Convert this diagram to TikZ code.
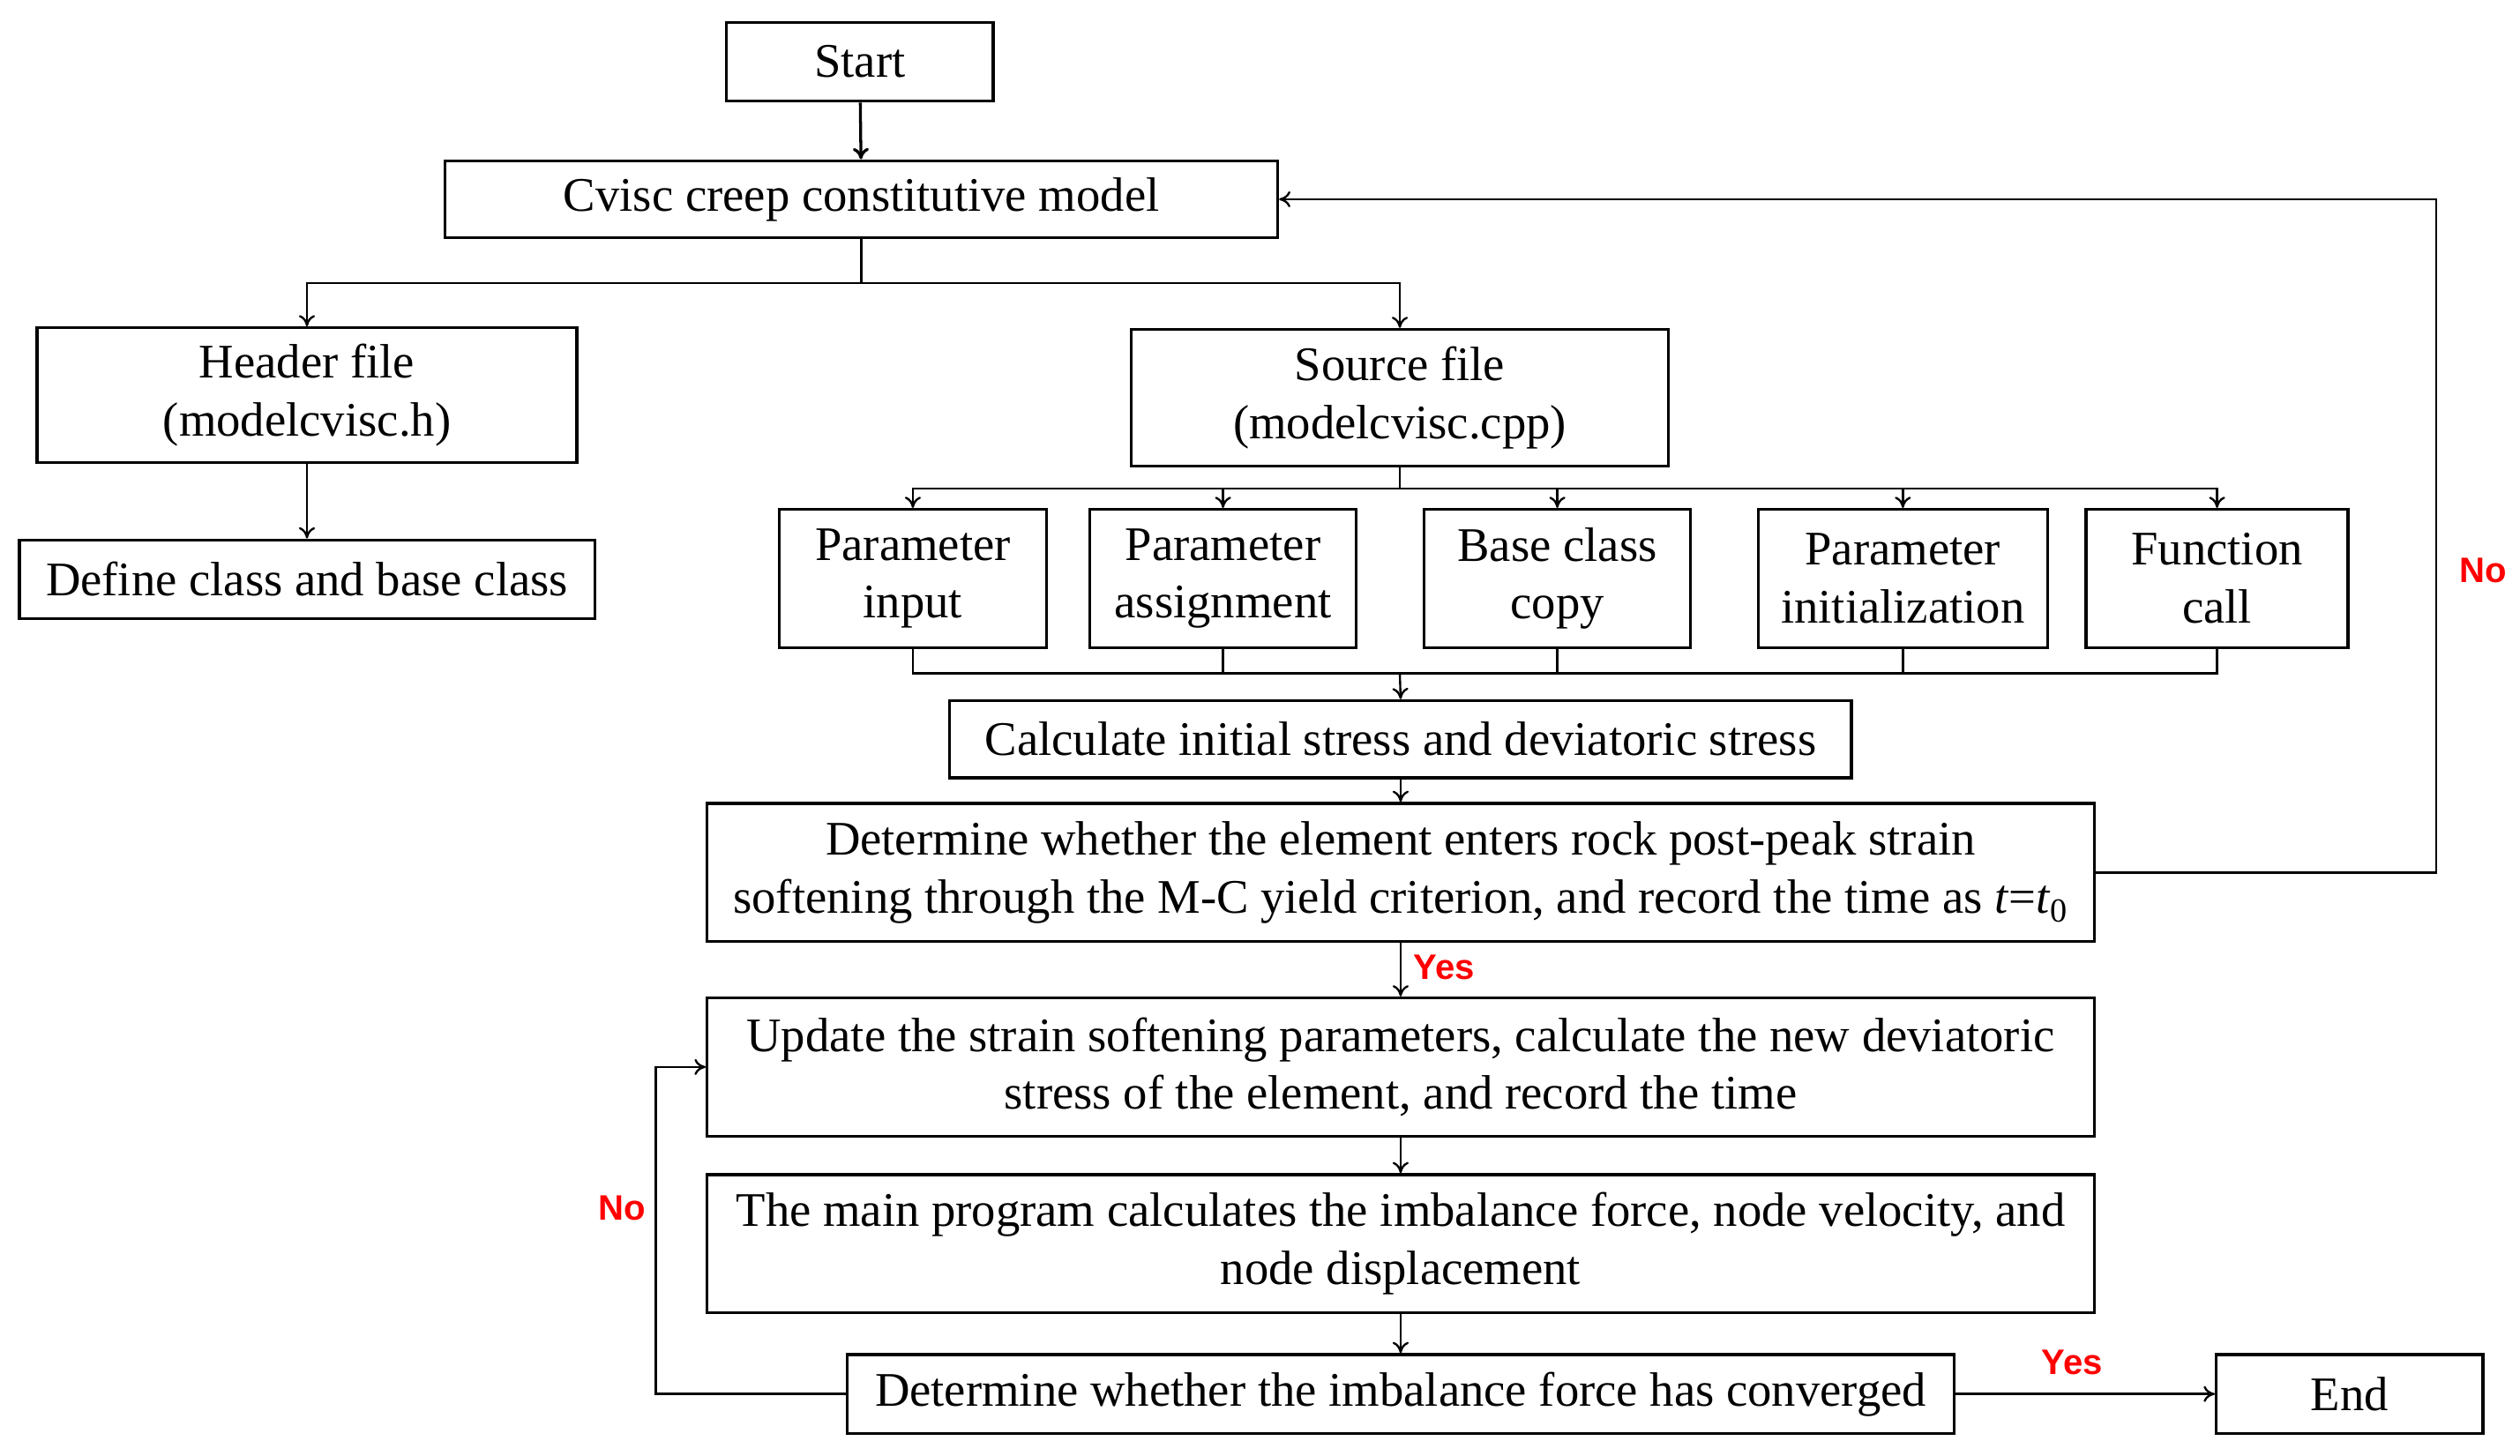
\documentclass[tikz,border=0pt]{standalone}
\usepackage{fontspec}
\setmainfont{Liberation Serif}
\newfontfamily\lab{Liberation Sans}
\usetikzlibrary{arrows.meta}
\begin{document}
\begin{tikzpicture}[x=1pt,y=-1pt,
  box/.style={draw,line width=1.8pt,align=center,inner sep=0pt,font=\fontsize{30}{36}\selectfont},
  con/.style={line width=1.3pt},
  arr/.style={con,-{To[length=7pt,width=10pt]}},
  lbl/.style={text=red,font=\lab\bfseries\fontsize{22}{26}\selectfont}]
\useasboundingbox (0,0) rectangle (1568,906);
\node[box,minimum width=166,minimum height=49] (start) at (535,38.5) {Start};
\node[box,minimum width=518,minimum height=48] (cv) at (536,124) {Cvisc creep constitutive model};
\node[box,minimum width=336,minimum height=84] (hd) at (191,246) {Header file\\(modelcvisc.h)};
\node[box,minimum width=358,minimum height=49] (def) at (191,360.5) {Define class and base class};
\node[box,minimum width=334,minimum height=85] (src) at (871,247.5) {Source file\\(modelcvisc.cpp)};
\node[box,minimum width=166,minimum height=86] (p1) at (568,360) {Parameter\\input};
\node[box,minimum width=166,minimum height=86] (p2) at (761,360) {Parameter\\assignment};
\node[box,minimum width=166,minimum height=86] (p3) at (969,360) {Base class\\copy};
\node[box,minimum width=180,minimum height=86] (p4) at (1184,360) {Parameter\\initialization};
\node[box,minimum width=163,minimum height=86] (p5) at (1379.5,360) {Function\\call};
\node[box,minimum width=561,minimum height=48] (calc) at (871.5,460) {Calculate initial stress and deviatoric stress};
\node[box,minimum width=863,minimum height=86] (det) at (871.5,543) {Determine whether the element enters rock post-peak strain\\softening through the M-C yield criterion, and record the time as \textit{t}=\textit{t}\textsubscript{0}};
\node[box,minimum width=863,minimum height=86] (upd) at (871.5,664) {Update the strain softening parameters, calculate the new deviatoric\\stress of the element, and record the time};
\node[box,minimum width=863,minimum height=86] (mp) at (871.5,774) {The main program calculates the imbalance force, node velocity, and\\node displacement};
\node[box,minimum width=689,minimum height=49] (cnv) at (871.5,867.5) {Determine whether the imbalance force has converged};
\node[box,minimum width=166,minimum height=49] (end) at (1462,867.5) {End};
\coordinate (b1) at (536,176);
\coordinate (b2) at (871,304);
\coordinate (b3) at (871,419);
\coordinate (r1) at (1516,543);
\coordinate (r2) at (1516,124);
\coordinate (l1) at (408,867.5);
\coordinate (l2) at (408,664);
\draw[arr,line width=1.8pt] (start) -- (cv);
\draw[con] (cv.south) -- (b1);
\draw[arr] (b1) -| (hd.north);
\draw[arr] (b1) -| (src.north);
\draw[arr] (hd) -- (def);
\draw[con] (src.south) -- (b2);
\foreach \p in {p1,p2,p3,p4,p5} {\draw[arr] (b2) -| (\p.north); \draw[con] (\p.south) |- (b3);}
\draw[arr] (b3) -- (calc.north);
\draw[arr] (calc) -- (det);
\draw[arr] (det) -- (upd) node[lbl,pos=0.45,right=4pt] {Yes};
\draw[arr] (upd) -- (mp);
\draw[arr] (mp) -- (cnv);
\draw[arr] (cnv) -- (end) node[lbl,pos=0.45,above=8pt] {Yes};
\draw[arr] (det.east) -- (r1) -- (r2) -- (cv.east);
\node[lbl] (no1) at (1545,355) {No};
\draw[arr] (cnv.west) -- (l1) -- (l2) -- (upd.west);
\node[lbl] (no2) at (387,752) {No};
\end{tikzpicture}
\end{document}
